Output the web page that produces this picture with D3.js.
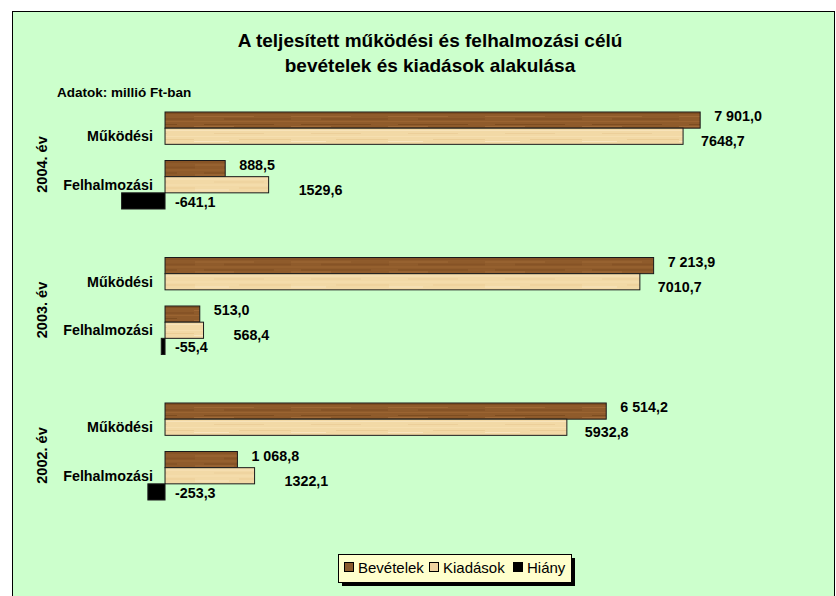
<!DOCTYPE html>
<html>
<head>
<meta charset="utf-8">
<script src="https://cdn.jsdelivr.net/npm/d3@7"></script>
<style>
  body { margin: 0; background: #fff; }
  svg { display: block; font-family: 'Liberation Sans', Arial, sans-serif; }
</style>
</head>
<body>
<div id="chart"></div>
<script>
// Data (million Ft)
const years = ['2004. év', '2003. év', '2002. év'];
const categories = ['Működési', 'Felhalmozási'];
const seriesNames = ['Bevételek', 'Kiadások', 'Hiány'];
// one value per year x category, year-major order
const bevetelek = [7901.0, 888.5, 7213.9, 513.0, 6514.2, 1068.8];
const kiadasok = [7648.7, 1529.6, 7010.7, 568.4, 5932.8, 1322.1];
const hiany = [null, -641.1, null, -55.4, null, -253.3];

const width = 836, height = 596;

const svg = d3.select('#chart')
    .append('svg')
    .attr('width', width)
    .attr('height', height);

// wood-like textures
const defs = svg.append('defs');
function woodPattern(id, base, streaks) {
    const p = defs.append('pattern')
        .attr('id', id)
        .attr('patternUnits', 'userSpaceOnUse')
        .attr('width', 97)
        .attr('height', 16);
    p.append('rect').attr('width', 97).attr('height', 16).attr('fill', base);
    streaks.forEach(s => {
        p.append('rect')
            .attr('x', s[0]).attr('y', s[1])
            .attr('width', s[2]).attr('height', s[3])
            .attr('fill', s[4]).attr('opacity', s[5]);
    });
}
woodPattern('wood-dark', '#8f5b2b', [
    [0, 1, 97, 1, '#744519', 0.6],
    [0, 4, 60, 1, '#b07640', 0.5],
    [30, 6, 67, 2, '#7a4920', 0.45],
    [0, 9, 97, 1, '#a46a36', 0.6],
    [10, 12, 70, 1, '#6b3f18', 0.5],
    [0, 14, 40, 1, '#b37b45', 0.5]
]);
woodPattern('wood-light', '#f2d9a6', [
    [0, 2, 97, 1, '#fae7c3', 0.7],
    [20, 5, 50, 1, '#e6c68d', 0.5],
    [0, 8, 97, 1, '#f8e3b8', 0.6],
    [45, 11, 52, 1, '#e2c084', 0.45],
    [0, 13, 35, 1, '#fbeacb', 0.7]
]);

const colors = ['url(#wood-dark)', 'url(#wood-light)', '#000000'];
const swatchColors = ['#8a5a2c', '#efd3a0', '#000000'];

// Background / border
svg.append('rect')
    .attr('x', 12.5).attr('y', 11.5)
    .attr('width', 822).attr('height', 600)
    .attr('fill', '#ccffcc')
    .attr('stroke', '#000')
    .attr('stroke-width', 1);

// Title
const title = svg.append('text')
    .attr('text-anchor', 'middle')
    .attr('font-size', '19px')
    .attr('font-weight', 'bold')
    .attr('fill', '#000');
title.append('tspan').attr('x', 430).attr('y', 47).text('A teljesített működési és felhalmozási célú');
title.append('tspan').attr('x', 430).attr('y', 72).text('bevételek és kiadások alakulása');

svg.append('text')
    .attr('x', 57).attr('y', 97)
    .attr('font-size', '13.5px')
    .attr('font-weight', 'bold')
    .text('Adatok: millió Ft-ban');

// Scales
const x = d3.scaleLinear()
    .domain([-1000, 9000])
    .range([97.3, 774.6]);

const yYear = d3.scaleBand()
    .domain(years)
    .range([87.75, 524.25])
    .paddingInner(1 / 3)
    .paddingOuter(1 / 6);

const yCat = d3.scaleBand()
    .domain(categories)
    .range([0, yYear.bandwidth()]);

const ySeries = d3.scaleBand()
    .domain(seriesNames)
    .range([0, yCat.bandwidth()]);

// Build rows
const rows = [];
years.forEach((yr, i) => {
    categories.forEach((cat, j) => {
        const k = i * categories.length + j;
        rows.push({ year: yr, cat: cat, values: [bevetelek[k], kiadasok[k], hiany[k]] });
    });
});

const loc = d3.formatLocale({ decimal: ',', thousands: ' ', grouping: [3], currency: ['', ''], minus: '-' });
const fmtGrouped = loc.format(',.1f');
const fmtPlain = loc.format('.1f');
const formatters = [fmtGrouped, fmtPlain, fmtPlain];

const plot = svg.append('g');

// Year labels (rotated)
plot.selectAll('.year-label')
    .data(years)
    .enter()
    .append('text')
    .attr('class', 'year-label')
    .attr('transform', d => `translate(47, ${yYear(d) + yYear.bandwidth() / 2 + 4}) rotate(-90)`)
    .attr('text-anchor', 'middle')
    .attr('font-size', '14.5px')
    .attr('font-weight', 'bold')
    .text(d => d);

// Category labels
const rowGroups = plot.selectAll('.row')
    .data(rows)
    .enter()
    .append('g')
    .attr('class', 'row')
    .attr('transform', d => `translate(0, ${yYear(d.year) + yCat(d.cat)})`);

rowGroups.append('text')
    .attr('x', 153)
    .attr('y', yCat.bandwidth() / 2 + 5)
    .attr('text-anchor', 'end')
    .attr('font-size', '14.3px')
    .attr('font-weight', 'bold')
    .text(d => d.cat);

// Bars
rowGroups.each(function (row) {
    const g = d3.select(this);
    row.values.forEach((v, s) => {
        if (v === null) return;
        const y0 = ySeries(seriesNames[s]);
        g.append('rect')
            .attr('x', x(Math.min(0, v)))
            .attr('y', y0)
            .attr('width', Math.abs(x(v) - x(0)))
            .attr('height', ySeries.bandwidth())
            .attr('fill', colors[s])
            .attr('stroke', '#1a1a1a')
            .attr('stroke-width', 1);

        // value labels
        let lx, ly;
        const mid = y0 + ySeries.bandwidth() / 2;
        if (s === 0) {
            lx = x(v) + 14; ly = mid + 1;
        } else if (s === 1) {
            lx = x(v) + (row.cat === 'Felhalmozási' ? 30 : 18); ly = mid + 10;
        } else {
            lx = x(0) + 10; ly = mid + 6;
        }
        g.append('text')
            .attr('x', lx)
            .attr('y', ly)
            .attr('font-size', '14.3px')
            .attr('font-weight', 'bold')
            .text(formatters[s](v));
    });
});

// Legend
const legend = svg.append('g')
    .attr('transform', 'translate(338, 554)');
legend.append('rect')
    .attr('x', 4).attr('y', 4)
    .attr('width', 233).attr('height', 28)
    .attr('fill', '#000');
legend.append('rect')
    .attr('x', 0.5).attr('y', 0.5)
    .attr('width', 233).attr('height', 28)
    .attr('fill', '#ffffcc')
    .attr('stroke', '#000');

const legendX = [6, 91, 175];
const items = legend.selectAll('.legend-item')
    .data(seriesNames)
    .enter()
    .append('g')
    .attr('class', 'legend-item')
    .attr('transform', (d, i) => `translate(${legendX[i]}, 0)`);
items.append('rect')
    .attr('x', 0.5).attr('y', 8.5)
    .attr('width', 9).attr('height', 9)
    .attr('fill', (d, i) => swatchColors[i])
    .attr('stroke', '#000');
items.append('text')
    .attr('x', 14)
    .attr('y', 18.5)
    .attr('font-size', '15px')
    .text(d => d);
</script>
</body>
</html>
